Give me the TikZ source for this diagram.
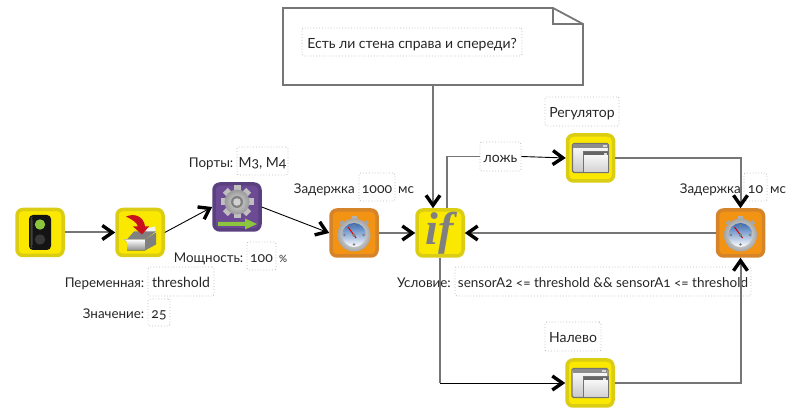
\documentclass[tikz,border=0pt]{standalone}
\usepackage{fontspec}
\setmainfont{Lato}[Numbers=OldStyle]
\newfontfamily\iffont{Liberation Serif}
\usetikzlibrary{arrows.meta}

\definecolor{blockyellow}{HTML}{FAE800}
\definecolor{edgeyellow}{HTML}{DACD14}
\definecolor{blockorange}{HTML}{F39314}
\definecolor{edgeorange}{HTML}{D6842A}
\definecolor{blockpurple}{HTML}{6C4A94}
\definecolor{edgepurple}{HTML}{5B4080}
\definecolor{iconred}{HTML}{C8101E}
\definecolor{icongreen}{HTML}{8CC63F}
\definecolor{linegray}{HTML}{767676}
\definecolor{dialblue}{HTML}{3A6DB5}

\tikzset{
    block/.style={line width=3.5pt, rounded corners=6pt, minimum size=46pt, inner sep=0pt},
    yellowblock/.style={block, draw=edgeyellow, fill=blockyellow},
    orangeblock/.style={block, draw=edgeorange, fill=blockorange},
    purpleblock/.style={block, draw=edgepurple, fill=blockpurple},
    barb/.tip={Straight Barb[black, length=10pt, width=14pt, line width=3.4pt]},
    link/.style={draw=linegray, line width=2pt, -{barb}},
    thinlink/.style={draw=black, line width=0.9pt, -{barb}},
    plainlink/.style={draw=linegray, line width=1.8pt},
    notebody/.style={draw=linegray, line width=1.8pt, line join=miter},
    caption/.style={anchor=east, inner sep=0pt, font=\fontsize{13.4}{16}\selectfont, text=black!85, text height=13pt, text depth=0pt},
    unit/.style={caption, anchor=west},
    valbox/.style={draw=black!25, dotted, line width=0.9pt, rounded corners=2pt, inner sep=0pt,
        font=\fontsize{14}{16}\selectfont, text=black!85, text height=13pt, text depth=0pt},
    pics/lights/.style={code={
        \fill[black!92, rounded corners=4pt] (-11,-17.5) rectangle (11,17.5);
        \fill[black!75, rounded corners=3pt] (-9.5,-15.5) rectangle (-7.5,15.5);
        \fill[icongreen] (0,-8) circle (5.2);
        \fill[black!78] (0,7) circle (5.2);
    }},
    pics/crate/.style={code={
        % arrow falling into the box
        \fill[white!90!gray] (6,-4) -- (15,-6) -- (16,1) -- (6,1) -- cycle;
        \fill[black!50] (-13,7) -- (-6,-1) -- (16,-1) -- (5,7) -- cycle;
        \fill[top color=white, bottom color=black!45] (-16,7) -- (5,7) -- (5,18) -- (-13,18) -- (-13,10) -- cycle;
        \fill[black!50] (5,7) -- (16,0) -- (16,12) -- (5,18) -- cycle;
        \fill[iconred] (-14,-16) .. controls (-4,-20) and (4,-15) .. (5,-6) -- (9,-6) -- (2,2) -- (-7,-6) -- (-2,-6) .. controls (-3,-10) and (-8,-13) .. (-14,-16) -- cycle;
    }},
    pics/gear/.style={code={
        \foreach \ang in {0,45,...,315} {
            \fill[black!25, rotate around={\ang:(0,-5)}] (-3.5,-5) rectangle (3.5,-21.5);
        }
        \shade[inner color=black!15, outer color=black!40] (0,-5) circle (12.5);
        \fill[black!50] (0,-5) circle (6);
        \fill[black!18] (0,-5) circle (3.8);
        \fill[icongreen] (-19,15) -- (8,15) -- (8,11.5) -- (20,17) -- (8,22.5) -- (8,19) -- (-19,19) -- cycle;
    }},
    pics/watch/.style={code={
        \fill[black!30] (-2.5,-17) rectangle (2.5,-12);
        \foreach \ang in {-45,45} {
            \fill[black!35, rotate around={\ang:(0,2)}] (-2,-17) rectangle (2,-12);
        }
        \shade[inner color=white, outer color=black!35] (0,2) circle (16.5);
        \shade[top color=dialblue, middle color=dialblue!45, bottom color=white] (0,2) circle (12);
        \foreach \ang in {0,90,180,270} {
            \fill[black!50, rotate around={\ang:(0,2)}] (0,-7.5) circle (1.3);
        }
        \draw[red!85!black, line width=1pt] (-6,-6) -- (2,5);
        \fill[black!50] (0,2) circle (1.8);
    }},
    pics/panel/.style={code={
        \draw[black!55, line width=1.2pt, rounded corners=1.5pt, top color=white, bottom color=black!22] (-18,-14.5) rectangle (18,14.5);
        \fill[black!45] (-17.4,-14) rectangle (17.4,-10);
        \fill[black!15] (12,-13) rectangle (16,-11);
        \draw[black!55, line width=1pt, top color=white, bottom color=black!18] (-7,-6.5) rectangle (18,14.5);
        \fill[black!60] (-6.5,-6) rectangle (17.5,-2.5);
        \fill[black!15] (13,-5.2) rectangle (16,-3.4);
    }},
}

\begin{document}
\begin{tikzpicture}[x=1pt, y=-1pt]
    \useasboundingbox (0,0) rectangle (790,419);

    % --- BLOCKS ---
    \node[yellowblock] (startblock) at (40,232.5) {};
    \node[yellowblock] (varblock) at (140,232.5) {};
    \node[purpleblock] (engineblock) at (237,207) {};
    \node[orangeblock] (waitone) at (354,233) {};
    \node[yellowblock, font=\iffont\itshape\bfseries\fontsize{46}{46}\selectfont, text=black!50] (ifblock) at (440,233) {if};
    \node[yellowblock] (regulblock) at (590.5,158) {};
    \node[orangeblock] (waittwo) at (740.5,233) {};
    \node[yellowblock] (leftblock) at (590,383) {};

    % Icons
    \pic at (startblock) {lights};
    \pic at (varblock) {crate};
    \pic at (engineblock) {gear};
    \pic at (waitone) {watch};
    \pic at (waittwo) {watch};
    \pic at (regulblock) {panel};
    \pic at (leftblock) {panel};

    % --- NOTE ---
    \node[minimum width=300pt, minimum height=77pt, inner sep=0pt] (note) at (433,46.5) {};
    \draw[notebody] (283,8) -- (553,8) -- (583,24) -- (583,85) -- (283,85) -- cycle;
    \draw[notebody] (553,8) -- (553,24) -- (583,24);
    \node[valbox, minimum width=220pt, minimum height=28pt] (notetext) at (412,42) {Есть ли стена справа и спереди?};

    % --- LABELS ---
    \node[caption] (portscap) at (233.5,161) {Порты:};
    \node[valbox, minimum width=51pt, minimum height=28pt] (portsval) at (262.5,161) {М3, М4};
    \node[caption] (powercap) at (243.5,256) {Мощность:};
    \node[valbox, minimum width=29pt, minimum height=28pt] (powerval) at (261.5,256) {100};
    \node[unit, font=\fontsize{10}{12}\selectfont] (powerunit) at (279,256) {\%};
    \node[caption] (varcap) at (144.5,281.5) {Переменная:};
    \node[valbox, minimum width=66pt, minimum height=29pt] (varval) at (181,281.5) {threshold};
    \node[caption] (valuecap) at (144.5,312.5) {Значение:};
    \node[valbox, minimum width=22pt, minimum height=27pt] (valueval) at (159,312.5) {25};
    \node[caption] (waitonecap) at (355,187) {Задержка};
    \node[valbox, minimum width=36pt, minimum height=28pt] (waitoneval) at (377,187) {1000};
    \node[unit] (waitoneunit) at (398,187) {мс};
    \node[valbox, minimum width=74pt, minimum height=29pt] (regulval) at (582,111.5) {Регулятор};
    \node[caption] (waittwocap) at (741,187) {Задержка};
    \node[valbox, minimum width=23pt, minimum height=28pt] (waittwoval) at (755.5,187) {10};
    \node[unit] (waittwounit) at (770,187) {мс};
    \node[caption] (condcap) at (451,281.5) {Условие:};
    \node[valbox, minimum width=296pt, minimum height=29pt, font=\fontsize{13.5}{16}\selectfont] (condval) at (603,281.5) {sensorA2 <= threshold \&\& sensorA1 <= threshold};
    \node[valbox, minimum width=56pt, minimum height=29pt] (leftval) at (573,336.5) {Налево};
    \node[valbox, minimum width=41pt, minimum height=29pt] (falseval) at (500.5,156.5) {ложь};

    % --- CONNECTORS ---
    \coordinate (ifout) at (447,208);
    \coordinate (ifcorner) at (ifblock.south |- leftblock.west);
    \draw[link] (startblock) -- (varblock);
    \draw[thinlink] (varblock.east) -- (engineblock.west);
    \draw[thinlink] (engineblock.east) -- (waitone.west);
    \draw[link] (waitone) -- (ifblock);
    \draw[link] (waittwo) -- (ifblock);
    \draw[link] (note.south) -- (note.south |- ifblock.north);
    \draw[plainlink] (ifout) |- (falseval.west);
    \draw[thinlink] (falseval.east) -- (regulblock.west);
    \draw[link] (regulblock.east) -| (waittwo.north);
    \draw[plainlink] (ifblock.south) -- (ifcorner);
    \draw[thinlink] (ifcorner) -- (leftblock.west);
    \draw[link] (leftblock.east) -| (waittwo.south);

\end{tikzpicture}
\end{document}
